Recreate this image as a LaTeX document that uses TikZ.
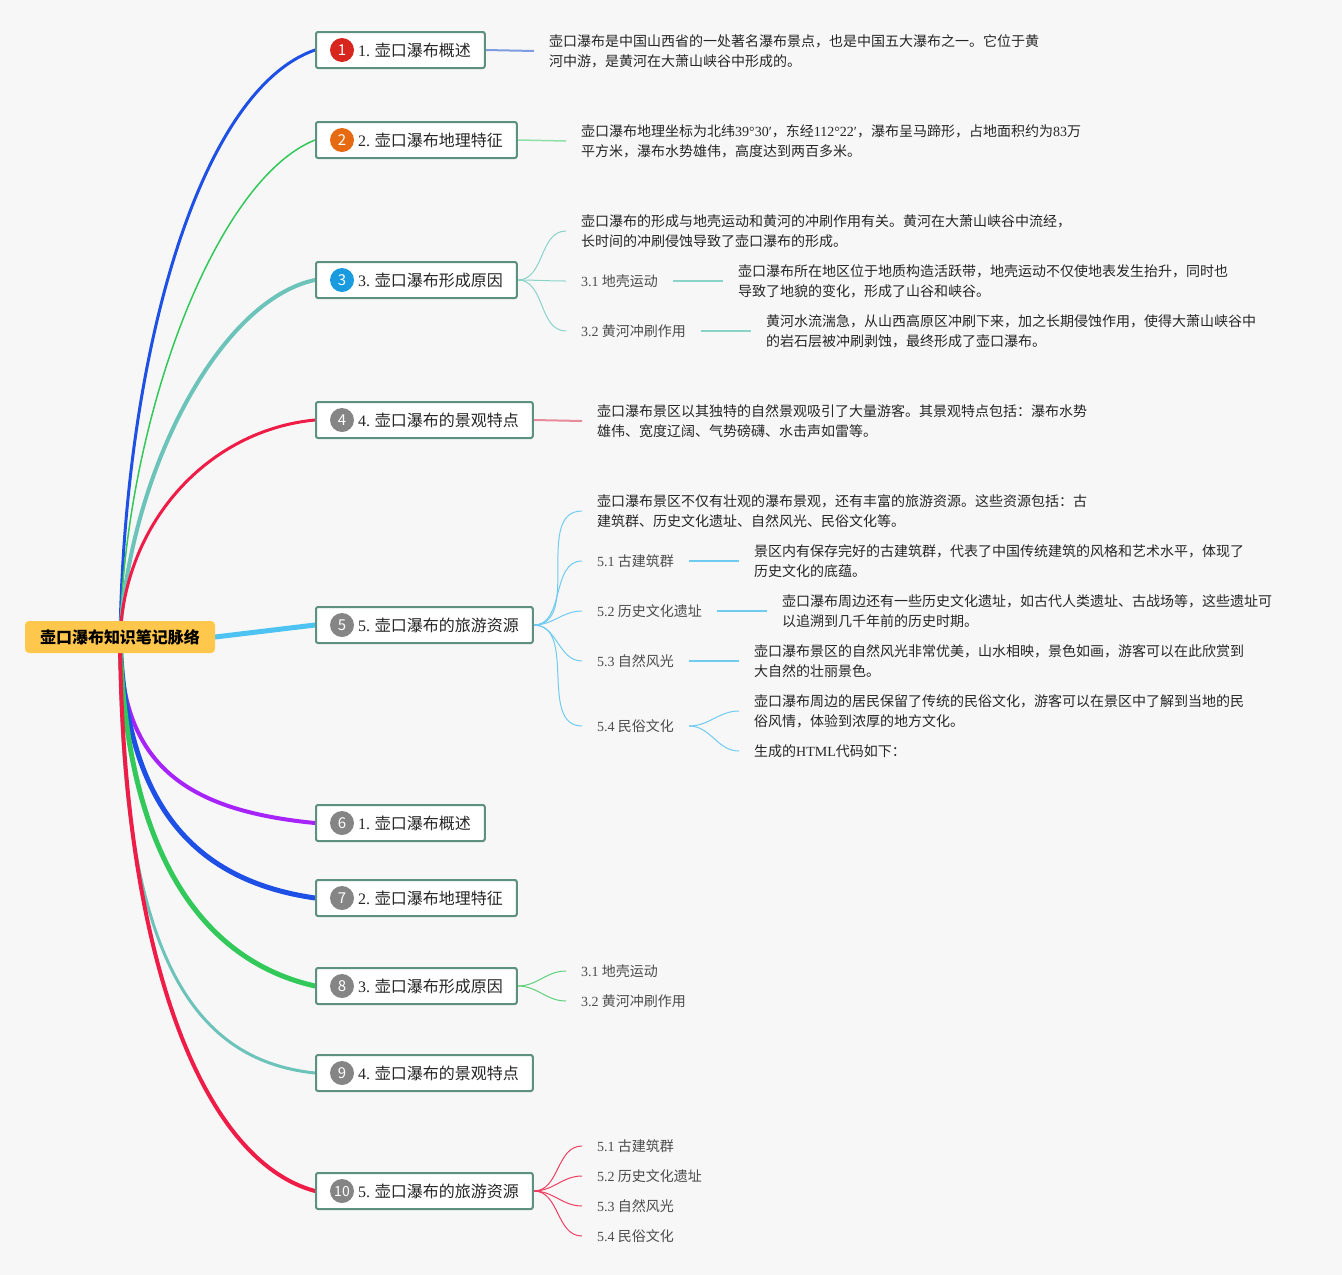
\documentclass[tikz,border=0pt]{standalone}
\usepackage{fontspec}
\setmainfont{Noto Sans CJK SC}
\newfontfamily\latinfont{Liberation Serif}
\newcommand{\latn}[1]{{\latinfont #1}}
\usepackage{tikz}
\definecolor{bgfill}{HTML}{F7F7F7}
\definecolor{rootfill}{HTML}{FFC84D}
\definecolor{boxline}{HTML}{5E9080}
\definecolor{badgered}{HTML}{D7261E}
\definecolor{badgeorange}{HTML}{E56A12}
\definecolor{badgeblue}{HTML}{1A9BE0}
\definecolor{badgegray}{HTML}{858585}
\definecolor{edgeblue}{HTML}{1E50E6}
\definecolor{edgegreen}{HTML}{33C85A}
\definecolor{edgeteal}{HTML}{6CC3B9}
\definecolor{edgered}{HTML}{EE1C46}
\definecolor{edgecyan}{HTML}{4DC3F2}
\definecolor{edgepurple}{HTML}{A623FA}
\definecolor{twigblue}{HTML}{7F9CE0}
\definecolor{twiggreen}{HTML}{8FE0A8}
\definecolor{twigteal}{HTML}{8AD3C9}
\definecolor{twigpink}{HTML}{E88A9A}
\definecolor{twigcyan}{HTML}{6FCBEF}
\definecolor{twiglime}{HTML}{5FD07A}
\definecolor{twigred}{HTML}{EE3F62}
\tikzstyle{Root}=[fill=rootfill, rounded corners=4pt, minimum height=32pt, inner xsep=15pt, font=\fontsize{16}{16}\selectfont\bfseries, text=black]
\tikzstyle{Branch}=[anchor=west, draw=boxline, line width=2pt, fill=white, rounded corners=2pt, minimum height=36pt, inner xsep=14pt, font=\fontsize{16}{16}\selectfont, text=black!85]
\tikzstyle{Badge}=[shape=circle, minimum size=24pt, inner sep=0pt, text=white, font=\fontsize{15}{15}\selectfont]
\tikzstyle{Detail}=[anchor=west, align=left, inner xsep=15pt, inner ysep=2pt, font=\fontsize{14}{20}\selectfont, text=black!85]
\tikzstyle{Leaf}=[anchor=west, inner xsep=15pt, inner ysep=2pt, font=\fontsize{14}{14}\selectfont, text=black!70]
\tikzstyle{trunk}=[line cap=round]
\tikzstyle{twig}=[line width=1pt]
\pgfdeclarelayer{nodelayer}
\pgfdeclarelayer{edgelayer}
\pgfsetlayers{edgelayer, main, nodelayer}

\begin{document}
\begin{tikzpicture}[x=1pt, y=-1pt]
	\useasboundingbox (0, 0) rectangle (1342, 1275);
	\begin{pgfonlayer}{nodelayer}
		\node [style=Root] (root) at (120, 637) {壶口瀑布知识笔记脉络};
		\node [style=Branch] (b1) at (315, 50) {\hspace*{28pt}\latn{1.} 壶口瀑布概述};
		\node [style=Branch] (b2) at (315, 140) {\hspace*{28pt}\latn{2.} 壶口瀑布地理特征};
		\node [style=Branch] (b3) at (315, 280) {\hspace*{28pt}\latn{3.} 壶口瀑布形成原因};
		\node [style=Branch] (b4) at (315, 420) {\hspace*{28pt}\latn{4.} 壶口瀑布的景观特点};
		\node [style=Branch] (b5) at (315, 625) {\hspace*{28pt}\latn{5.} 壶口瀑布的旅游资源};
		\node [style=Branch] (b6) at (315, 823) {\hspace*{28pt}\latn{1.} 壶口瀑布概述};
		\node [style=Branch] (b7) at (315, 898) {\hspace*{28pt}\latn{2.} 壶口瀑布地理特征};
		\node [style=Branch] (b8) at (315, 986) {\hspace*{28pt}\latn{3.} 壶口瀑布形成原因};
		\node [style=Branch] (b9) at (315, 1073) {\hspace*{28pt}\latn{4.} 壶口瀑布的景观特点};
		\node [style=Branch] (b10) at (315, 1191) {\hspace*{28pt}\latn{5.} 壶口瀑布的旅游资源};
		\node [style=Badge, fill=badgered] (n1) at (342, 50) {1};
		\node [style=Badge, fill=badgeorange] (n2) at (342, 140) {2};
		\node [style=Badge, fill=badgeblue] (n3) at (342, 280) {3};
		\node [style=Badge, fill=badgegray] (n4) at (342, 420) {4};
		\node [style=Badge, fill=badgegray] (n5) at (342, 625) {5};
		\node [style=Badge, fill=badgegray] (n6) at (342, 823) {6};
		\node [style=Badge, fill=badgegray] (n7) at (342, 898) {7};
		\node [style=Badge, fill=badgegray] (n8) at (342, 986) {8};
		\node [style=Badge, fill=badgegray] (n9) at (342, 1073) {9};
		\node [style=Badge, fill=badgegray, font=\fontsize{14}{14}\selectfont] (n10) at (342, 1191) {10};
		\node [style=Detail] (d1) at (534, 51) {壶口瀑布是中国山西省的一处著名瀑布景点，也是中国五大瀑布之一。它位于黄\\河中游，是黄河在大萧山峡谷中形成的。};
		\node [style=Detail] (d2) at (566, 141) {壶口瀑布地理坐标为北纬\latn{39°30′}，东经\latn{112°22′}，瀑布呈马蹄形，占地面积约为\latn{83}万\\平方米，瀑布水势雄伟，高度达到两百多米。};
		\node [style=Detail] (t30) at (566, 231) {壶口瀑布的形成与地壳运动和黄河的冲刷作用有关。黄河在大萧山峡谷中流经，\\长时间的冲刷侵蚀导致了壶口瀑布的形成。};
		\node [style=Leaf] (s31) at (566, 281) {\latn{3.1} 地壳运动};
		\node [style=Detail] (d31) at (723, 281) {壶口瀑布所在地区位于地质构造活跃带，地壳运动不仅使地表发生抬升，同时也\\导致了地貌的变化，形成了山谷和峡谷。};
		\node [style=Leaf] (s32) at (566, 331) {\latn{3.2} 黄河冲刷作用};
		\node [style=Detail] (d32) at (751, 331) {黄河水流湍急，从山西高原区冲刷下来，加之长期侵蚀作用，使得大萧山峡谷中\\的岩石层被冲刷剥蚀，最终形成了壶口瀑布。};
		\node [style=Detail] (d4) at (582, 421) {壶口瀑布景区以其独特的自然景观吸引了大量游客。其景观特点包括：瀑布水势\\雄伟、宽度辽阔、气势磅礴、水击声如雷等。};
		\node [style=Detail] (t50) at (582, 511) {壶口瀑布景区不仅有壮观的瀑布景观，还有丰富的旅游资源。这些资源包括：古\\建筑群、历史文化遗址、自然风光、民俗文化等。};
		\node [style=Leaf] (s51) at (582, 561) {\latn{5.1} 古建筑群};
		\node [style=Detail] (d51) at (739, 561) {景区内有保存完好的古建筑群，代表了中国传统建筑的风格和艺术水平，体现了\\历史文化的底蕴。};
		\node [style=Leaf] (s52) at (582, 611) {\latn{5.2} 历史文化遗址};
		\node [style=Detail] (d52) at (767, 611) {壶口瀑布周边还有一些历史文化遗址，如古代人类遗址、古战场等，这些遗址可\\以追溯到几千年前的历史时期。};
		\node [style=Leaf] (s53) at (582, 661) {\latn{5.3} 自然风光};
		\node [style=Detail] (d53) at (739, 661) {壶口瀑布景区的自然风光非常优美，山水相映，景色如画，游客可以在此欣赏到\\大自然的壮丽景色。};
		\node [style=Leaf] (s54) at (582, 726) {\latn{5.4} 民俗文化};
		\node [style=Detail] (d54a) at (739, 711) {壶口瀑布周边的居民保留了传统的民俗文化，游客可以在景区中了解到当地的民\\俗风情，体验到浓厚的地方文化。};
		\node [style=Detail] (d54b) at (739, 751) {生成的\latn{HTML}代码如下：};
		\node [style=Leaf] (s81) at (566, 971) {\latn{3.1} 地壳运动};
		\node [style=Leaf] (s82) at (566, 1001) {\latn{3.2} 黄河冲刷作用};
		\node [style=Leaf] (s101) at (582, 1146) {\latn{5.1} 古建筑群};
		\node [style=Leaf] (s102) at (582, 1176) {\latn{5.2} 历史文化遗址};
		\node [style=Leaf] (s103) at (582, 1206) {\latn{5.3} 自然风光};
		\node [style=Leaf] (s104) at (582, 1236) {\latn{5.4} 民俗文化};
	\end{pgfonlayer}
	\begin{pgfonlayer}{edgelayer}
		\fill [bgfill] (0, 0) rectangle (1342, 1275);
		% root to the ten branches
		\draw [style=trunk, draw=edgeblue, line width=3pt] (root.center) .. controls (125, 350) and (200, 90) .. (b1.west);
		\draw [style=trunk, draw=edgegreen, line width=1.5pt] (root.center) .. controls (125, 420) and (215, 180) .. (b2.west);
		\draw [style=trunk, draw=edgeteal, line width=4pt] (root.center) .. controls (130, 470) and (220, 300) .. (b3.west);
		\draw [style=trunk, draw=edgered, line width=3pt] (root.center) .. controls (125, 520) and (210, 430) .. (b4.west);
		\draw [style=trunk, draw=edgecyan, line width=5pt] (root.east) -- (b5.west);
		\draw [style=trunk, draw=edgepurple, line width=4pt] (root.center) .. controls (120, 760) and (180, 810) .. (b6.west);
		\draw [style=trunk, draw=edgeblue, line width=5pt] (root.center) .. controls (125, 800) and (190, 880) .. (b7.west);
		\draw [style=trunk, draw=edgegreen, line width=5pt] (root.center) .. controls (125, 850) and (200, 960) .. (b8.west);
		\draw [style=trunk, draw=edgeteal, line width=3pt] (root.center) .. controls (120, 950) and (190, 1060) .. (b9.west);
		\draw [style=trunk, draw=edgered, line width=4pt] (root.center) .. controls (122, 950) and (200, 1160) .. (b10.west);
		% branch details
		\draw [style=twig, draw=twigblue, line width=2pt] (b1.east) -- (d1.west);
		\draw [style=twig, draw=twiggreen, line width=1.5pt] (b2.east) -- (d2.west);
		\draw [style=twig, draw=twigteal] (b3.east) to [out=0, in=180] (t30.west);
		\draw [style=twig, draw=twigteal] (b3.east) to [out=0, in=180] (s31.west);
		\draw [style=twig, draw=twigteal] (b3.east) to [out=0, in=180] (s32.west);
		\draw [style=twig, draw=twigteal, line width=1.5pt] (s31.east) -- (d31.west);
		\draw [style=twig, draw=twigteal, line width=1.5pt] (s32.east) -- (d32.west);
		\draw [style=twig, draw=twigpink, line width=2pt] (b4.east) -- (d4.west);
		\draw [style=twig, draw=twigcyan] (b5.east) to [out=0, in=180] (t50.west);
		\draw [style=twig, draw=twigcyan] (b5.east) to [out=0, in=180] (s51.west);
		\draw [style=twig, draw=twigcyan] (b5.east) to [out=0, in=180] (s52.west);
		\draw [style=twig, draw=twigcyan] (b5.east) to [out=0, in=180] (s53.west);
		\draw [style=twig, draw=twigcyan] (b5.east) to [out=0, in=180] (s54.west);
		\draw [style=twig, draw=twigcyan, line width=1.5pt] (s51.east) -- (d51.west);
		\draw [style=twig, draw=twigcyan, line width=1.5pt] (s52.east) -- (d52.west);
		\draw [style=twig, draw=twigcyan, line width=1.5pt] (s53.east) -- (d53.west);
		\draw [style=twig, draw=twigcyan] (s54.east) to [out=0, in=180] (d54a.west);
		\draw [style=twig, draw=twigcyan] (s54.east) to [out=0, in=180] (d54b.west);
		\draw [style=twig, draw=twiglime] (b8.east) to [out=0, in=180] (s81.west);
		\draw [style=twig, draw=twiglime] (b8.east) to [out=0, in=180] (s82.west);
		\draw [style=twig, draw=twigred] (b10.east) to [out=0, in=180] (s101.west);
		\draw [style=twig, draw=twigred] (b10.east) to [out=0, in=180] (s102.west);
		\draw [style=twig, draw=twigred] (b10.east) to [out=0, in=180] (s103.west);
		\draw [style=twig, draw=twigred] (b10.east) to [out=0, in=180] (s104.west);
	\end{pgfonlayer}
\end{tikzpicture}
\end{document}
